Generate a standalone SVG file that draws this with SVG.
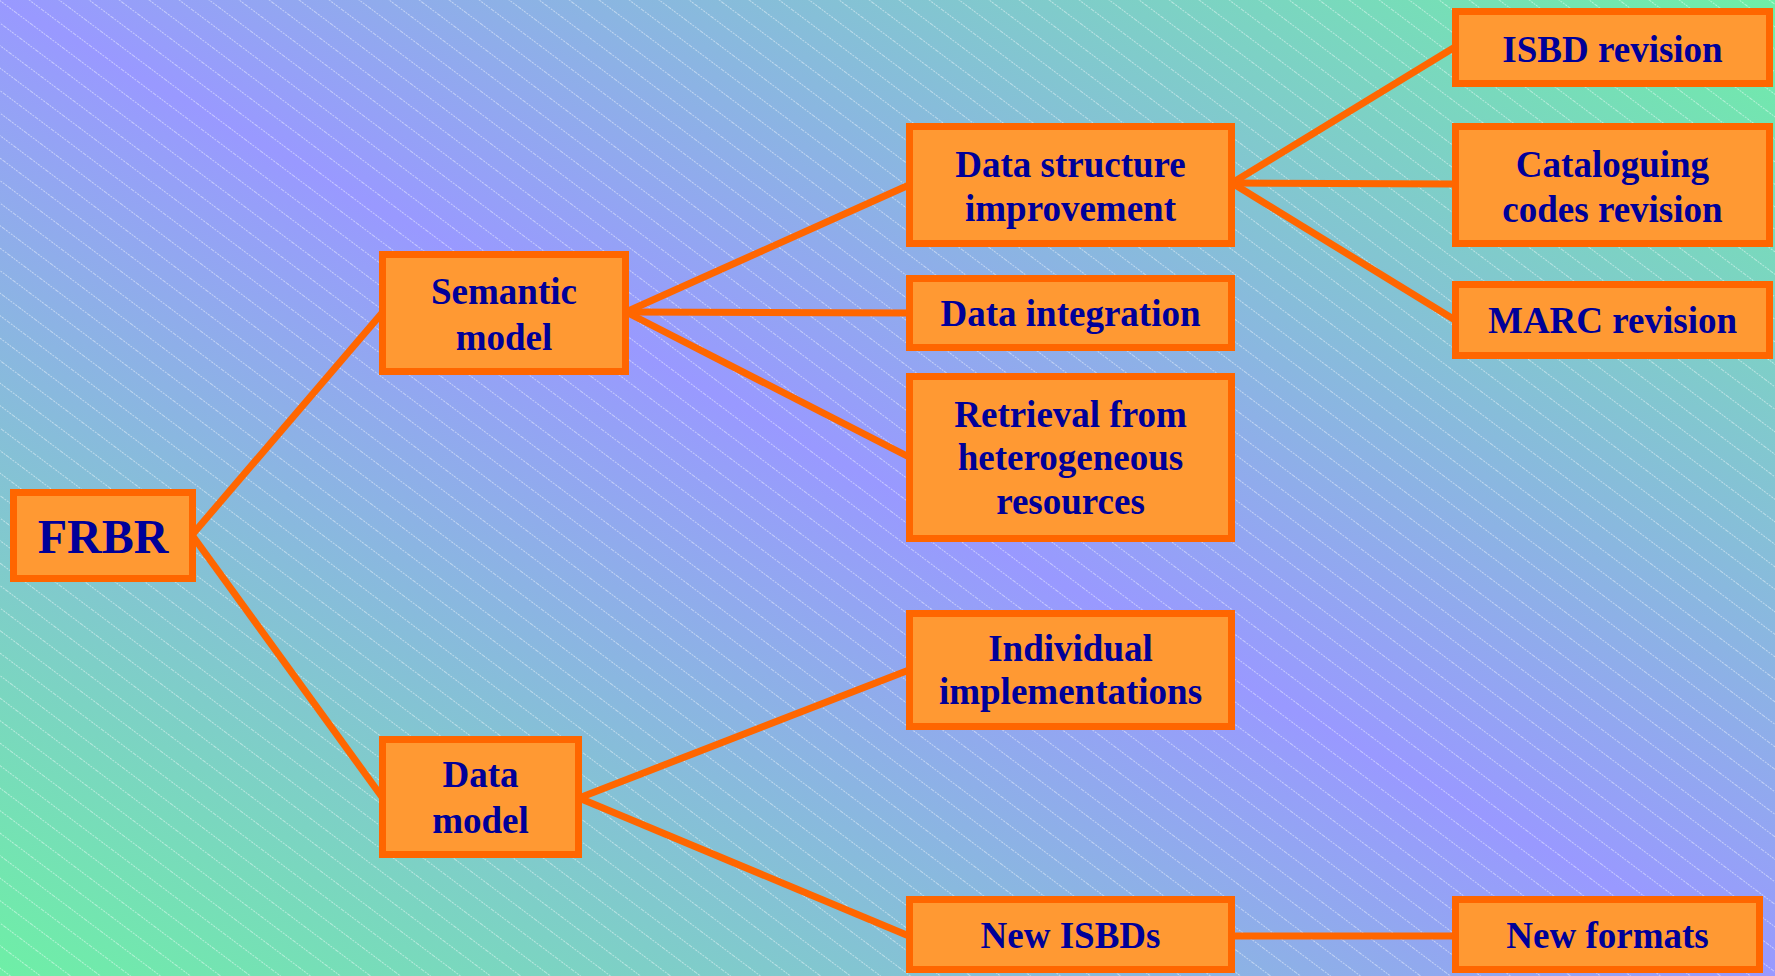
<svg xmlns="http://www.w3.org/2000/svg" width="1775" height="976" viewBox="0 0 1775 976">
  <defs>
    <linearGradient id="bg" x1="0" y1="1" x2="1" y2="0">
      <stop offset="0" stop-color="#6EEFA6"/>
      <stop offset="0.5" stop-color="#9999FF"/>
      <stop offset="1" stop-color="#6EEFA6"/>
    </linearGradient>
    <pattern id="stripes" patternUnits="userSpaceOnUse" width="20" height="18" patternTransform="rotate(36.87)">
      <line x1="0" y1="0.5" x2="20" y2="0.5" stroke="#FFFFFF" stroke-width="1" stroke-opacity="0.45" stroke-dasharray="2 1"/>
    </pattern>
    <style>
      .box rect { fill: #FF9933; stroke: #FF6600; stroke-width: 7; }
      .box text { font-family: "Liberation Serif", "Times New Roman", serif; font-weight: bold; font-size: 37px; fill: #000099; text-anchor: middle; }
      .conn line { stroke: #FF6600; stroke-width: 7; stroke-linecap: butt; }
    </style>
  </defs>
  <rect x="0" y="0" width="1775" height="976" fill="url(#bg)"/>
  <rect x="0" y="0" width="1775" height="976" fill="url(#stripes)"/>

  <g id="connectors" class="conn">
    <line x1="192" y1="535" x2="382" y2="313"/>
    <line x1="192" y1="535" x2="382" y2="797"/>
    <line x1="626" y1="312" x2="909" y2="185"/>
    <line x1="626" y1="312" x2="909" y2="313"/>
    <line x1="626" y1="312" x2="909" y2="457"/>
    <line x1="1232" y1="183" x2="1455" y2="47"/>
    <line x1="1232" y1="183" x2="1455" y2="184"/>
    <line x1="1232" y1="183" x2="1455" y2="320"/>
    <line x1="579" y1="798" x2="909" y2="670"/>
    <line x1="579" y1="798" x2="909" y2="936"/>
    <line x1="1232" y1="936" x2="1455" y2="936"/>
  </g>

  <g id="node-frbr" class="box">
    <rect x="13.5" y="492.5" width="179" height="86"/>
    <text x="103" y="553" style="font-size:48px">FRBR</text>
  </g>
  <g id="node-semantic" class="box">
    <rect x="382.5" y="254.5" width="243" height="117"/>
    <text x="504" y="304">Semantic</text>
    <text x="504" y="350">model</text>
  </g>
  <g id="node-datamodel" class="box">
    <rect x="382.5" y="739.5" width="196" height="115"/>
    <text x="480.5" y="787">Data</text>
    <text x="480.5" y="833">model</text>
  </g>
  <g id="node-datastructure" class="box">
    <rect x="909.5" y="126.5" width="322" height="117"/>
    <text x="1070.5" y="177">Data structure</text>
    <text x="1070.5" y="221">improvement</text>
  </g>
  <g id="node-dataintegration" class="box">
    <rect x="909.5" y="278.5" width="322" height="69"/>
    <text x="1070.5" y="326">Data integration</text>
  </g>
  <g id="node-retrieval" class="box">
    <rect x="909.5" y="376.5" width="322" height="162"/>
    <text x="1070.5" y="427">Retrieval from</text>
    <text x="1070.5" y="470">heterogeneous</text>
    <text x="1070.5" y="514">resources</text>
  </g>
  <g id="node-individual" class="box">
    <rect x="909.5" y="613.5" width="322" height="113"/>
    <text x="1070.5" y="661">Individual</text>
    <text x="1070.5" y="704">implementations</text>
  </g>
  <g id="node-newisbds" class="box">
    <rect x="909.5" y="899.5" width="322" height="70"/>
    <text x="1070.5" y="948">New ISBDs</text>
  </g>
  <g id="node-isbdrevision" class="box">
    <rect x="1455.5" y="11.5" width="314" height="72"/>
    <text x="1612.5" y="62">ISBD revision</text>
  </g>
  <g id="node-cataloguing" class="box">
    <rect x="1455.5" y="126.5" width="314" height="117"/>
    <text x="1612.5" y="177">Cataloguing</text>
    <text x="1612.5" y="222">codes revision</text>
  </g>
  <g id="node-marc" class="box">
    <rect x="1455.5" y="284.5" width="314" height="71"/>
    <text x="1612.5" y="333">MARC revision</text>
  </g>
  <g id="node-newformats" class="box">
    <rect x="1455.5" y="899.5" width="304" height="70"/>
    <text x="1607.5" y="948">New formats</text>
  </g>
</svg>
